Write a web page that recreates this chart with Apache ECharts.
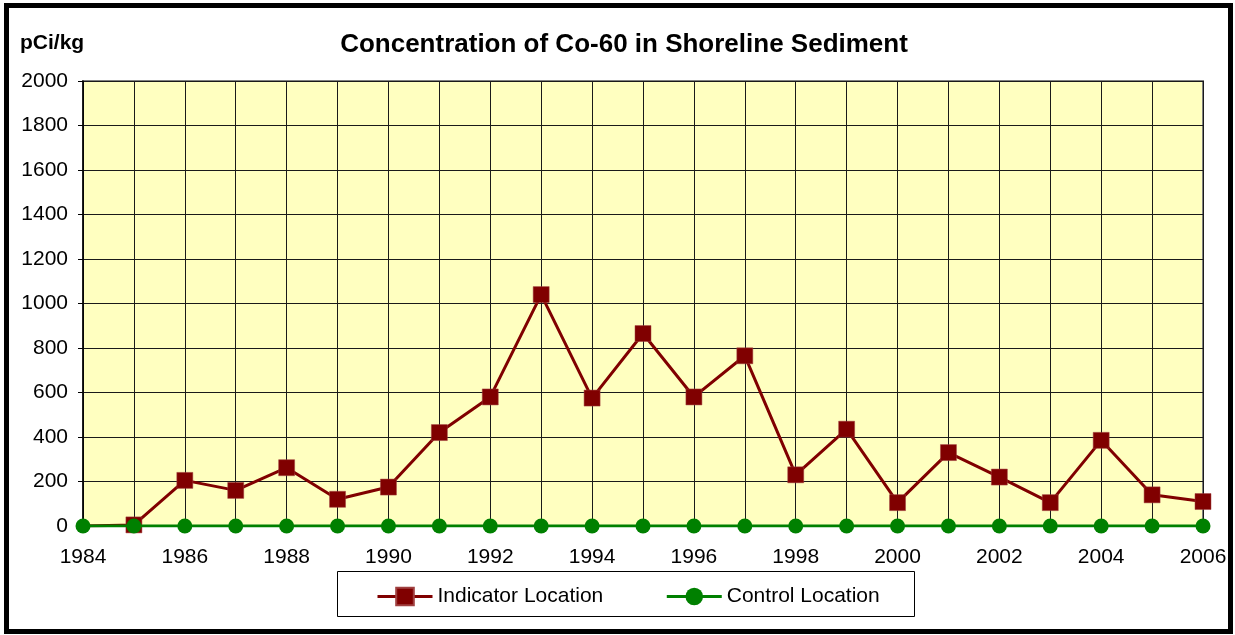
<!DOCTYPE html>
<html>
<head>
<meta charset="utf-8">
<script src="https://cdn.jsdelivr.net/npm/echarts@6/dist/echarts.min.js"></script>
<style>
html,body{margin:0;padding:0;background:#fff;}
#chart{width:1235px;height:635px;}
</style>
</head>
<body>
<div id="chart"></div>
<script>
const years = ['1984','1985','1986','1987','1988','1989','1990','1991','1992','1993','1994','1995','1996','1997','1998','1999','2000','2001','2002','2003','2004','2005','2006'];
const indicator = [0,5,205,160,262,120,175,420,580,1040,575,865,580,765,230,435,105,330,220,105,385,140,110];
const control = [0,0,0,0,0,0,0,0,0,0,0,0,0,0,0,0,0,0,0,0,0,0,0];
const yTicks = {min:0, max:2000, interval:200};
const titleText = 'Concentration of Co-60 in Shoreline Sediment';
const unitText = 'pCi/kg';

const chart = echarts.init(document.getElementById('chart'), null, {renderer:'canvas'});
const font = 'Arial, "Liberation Sans", sans-serif';

const indicatorData = indicator.map((v,i)=> i===0 ? {value:v, symbol:'none'} : v);

chart.setOption({
  animation:false,
  backgroundColor:'#ffffff',
  textStyle:{fontFamily:font},
  title:{
    text:titleText,
    left:619, top:27, textAlign:'center',
    textStyle:{fontSize:26, fontWeight:'bold', color:'#000', fontFamily:font}
  },
  graphic:[
    {type:'rect', shape:{x:6.5,y:5.5,width:1224,height:626}, style:{fill:'none', stroke:'#000', lineWidth:5}, z:100},
    {type:'text', left:20, top:33, style:{text:unitText, font:'bold 21px '+font, fill:'#000'}},
    {type:'rect', shape:{x:337.5,y:571.5,width:577,height:45}, style:{fill:'#fff', stroke:'#000', lineWidth:1}, z:0}
  ],
  legend:{
    left:371, top:581, itemWidth:55, itemHeight:22, itemGap:62,
    lineStyle:{width:3},
    textStyle:{fontSize:21, color:'#000', fontFamily:font},
    data:['Indicator Location','Control Location']
  },
  grid:{
    left:83, top:81, right:32, bottom:109,
    show:true, backgroundColor:'#FFFFC0', borderColor:'#808080', borderWidth:2
  },
  xAxis:{
    type:'category', data:years, boundaryGap:false,
    axisLine:{show:true, lineStyle:{color:'#000', width:1.5}},
    axisTick:{show:false},
    axisLabel:{interval:1, fontSize:21, color:'#000', margin:21, fontFamily:font},
    splitLine:{show:true, interval:0, lineStyle:{color:'#1a1a1a', width:1}}
  },
  yAxis:{
    type:'value', min:yTicks.min, max:yTicks.max, interval:yTicks.interval,
    axisLine:{show:true, lineStyle:{color:'#000', width:1.5}},
    axisTick:{show:true, length:5, lineStyle:{color:'#000'}},
    axisLabel:{fontSize:21, color:'#000', margin:15, fontFamily:font, formatter:(v)=>String(v)},
    splitLine:{show:true, lineStyle:{color:'#1a1a1a', width:1}}
  },
  series:[
    {
      name:'Indicator Location', type:'line', data:indicatorData,
      symbol:'rect', symbolSize:16,
      lineStyle:{color:'#800000', width:3},
      itemStyle:{color:'#800000', borderColor:'#a04040', borderWidth:0.5},
      z:3
    },
    {
      name:'Control Location', type:'line', data:control,
      symbol:'circle', symbolSize:15,
      lineStyle:{color:'#008000', width:3},
      itemStyle:{color:'#008000'},
      z:4
    }
  ]
});
</script>
</body>
</html>
